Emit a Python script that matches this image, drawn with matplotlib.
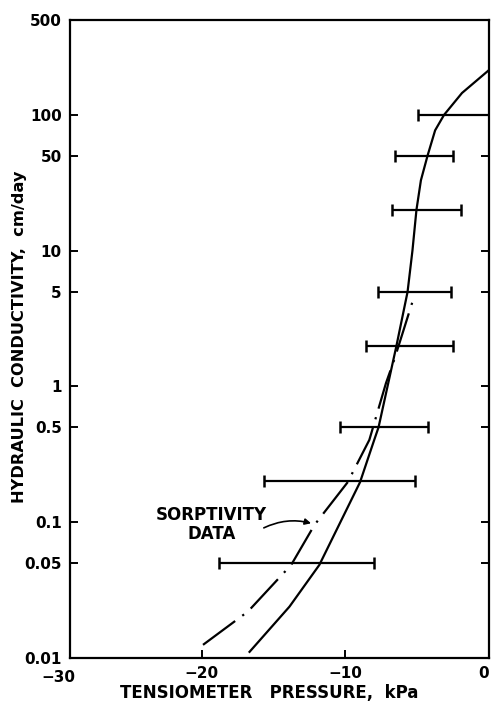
import numpy as np
import matplotlib
matplotlib.use('Agg')
import matplotlib.pyplot as plt
from matplotlib.ticker import FixedLocator, NullLocator

# measured conductivity (solid curve)
solid_x = [-16.67, -13.89, -11.81, -8.98, -7.99, -7.69, -6.44, -5.67, -5.33,
           -5.05, -4.74, -4.28, -3.75, -3.13, -1.88, 0.0]
solid_k = [0.0111, 0.0239, 0.0485, 0.197, 0.404, 0.5, 2.0, 4.97, 10, 20,
           33, 50, 77, 100, 145, 214]

# sorptivity data (dash-dot curve)
sorp_x = [-19.91, -16.78, -13.77, -12.15, -9.84, -8.33, -7.17, -6.6, -5.33]
sorp_k = [0.0125, 0.022, 0.0485, 0.0955, 0.197, 0.404, 1.06, 1.57, 4.2]

# tensiometer pressure ranges
bar_k = [100, 50, 20, 5, 2, 0.5, 0.2, 0.05]
bar_lo = [-4.93, -6.55, -6.78, -7.71, -8.56, -10.37, -15.69, -18.8]
bar_hi = [0.0, -2.52, -1.94, -2.66, -2.5, -4.22, -5.14, -8.03]

yticks = [500, 100, 50, 10, 5, 1, 0.5, 0.1, 0.05, 0.01]
ytick_labels = ['500', '100', '50', '10', '5', '1', '0.5', '0.1', '0.05', '0.01']
xticks = [-20, -10, 0]
xtick_labels = ['\u221220', '\u221210', '0']

fig = plt.figure(figsize=(4.92, 7.07), dpi=100)
ax = fig.add_axes([70 / 492, 1 - 658 / 707, (489 - 70) / 492, (658 - 20) / 707])

# curves
ax.plot(solid_x, solid_k, color='black', lw=1.6)
ax.plot(sorp_x, sorp_k, color='black', lw=1.6, linestyle=(0, (18, 4, 1, 4)))

# horizontal range bars
mid = [(a + b) / 2 for a, b in zip(bar_lo, bar_hi)]
half = [(b - a) / 2 for a, b in zip(bar_lo, bar_hi)]
ax.errorbar(mid, bar_k, xerr=half, fmt='none', ecolor='black',
            elinewidth=1.6, capsize=4, capthick=1.8)

ax.set_yscale('log')
ax.set_xlim(-29.17, 0)
ax.set_ylim(0.01, 500)

ax.yaxis.set_major_locator(FixedLocator(yticks))
ax.yaxis.set_minor_locator(NullLocator())
ax.set_yticklabels(ytick_labels)
ax.set_xticks(xticks)
ax.set_xticklabels(xtick_labels)

ax.tick_params(axis='both', direction='in', length=6, width=1.4,
               labelsize=11, pad=6, right=True)
for lab in ax.get_xticklabels() + ax.get_yticklabels():
  lab.set_fontweight('bold')
ax.get_xticklabels()[-1].set_horizontalalignment('right')
for s in ax.spines.values():
  s.set_linewidth(1.6)

# -30 label sits left of the axis edge
ax.text(-30, 0.0082, '\u221230', ha='center', va='top', fontsize=11,
        fontweight='bold', clip_on=False)

ax.set_ylabel('HYDRAULIC  CONDUCTIVITY,  cm/day', fontsize=11.7,
              fontweight='bold')
ax.yaxis.set_label_coords(-0.103, 0.504)
ax.set_xlabel('TENSIOMETER   PRESSURE,  kPa', fontsize=12,
              fontweight='bold')
ax.xaxis.set_label_coords(0.475, -0.04)

# annotation for sorptivity curve
ax.text(-19.3, 0.096, 'SORPTIVITY\nDATA', ha='center', va='center',
        fontsize=12, fontweight='bold', linespacing=1.05)
ax.annotate('', xy=(-12.2, 0.097), xytext=(-15.85, 0.089),
            arrowprops=dict(arrowstyle='-|>', color='black', lw=1.2,
                            connectionstyle='arc3,rad=-0.2',
                            mutation_scale=9))

fig.savefig('out.png', dpi=100)
